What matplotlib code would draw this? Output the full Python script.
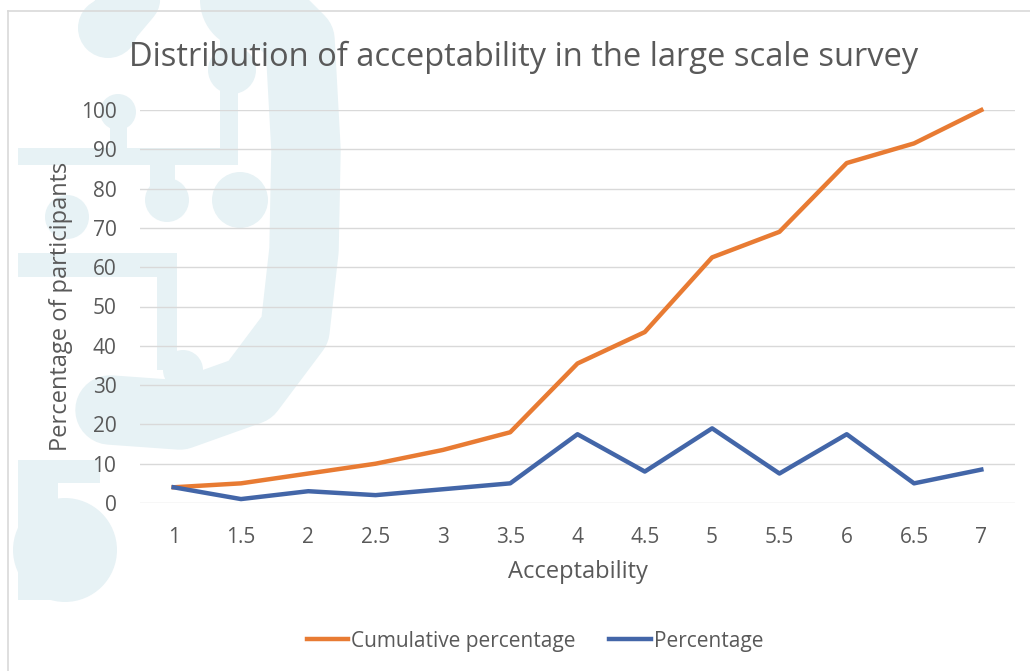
import matplotlib.pyplot as plt
from matplotlib.patches import Circle, Rectangle
from matplotlib.lines import Line2D

plt.rcParams['font.family'] = ['Open Sans', 'DejaVu Sans']

# survey data
acceptability = [1, 1.5, 2, 2.5, 3, 3.5, 4, 4.5, 5, 5.5, 6, 6.5, 7]
tick_labels = ['1', '1.5', '2', '2.5', '3', '3.5', '4', '4.5', '5', '5.5', '6', '6.5', '7']
cumulative = [4, 5, 7.5, 10, 13.5, 18, 35.5, 43.5, 62.5, 69, 86.5, 91.5, 100]
percentage = [4, 1, 3, 2, 3.5, 5, 17.5, 8, 19, 7.5, 17.5, 5, 8.5]

text_col = '#595959'
orange = '#e87b33'
blue = '#4366a8'
wm = '#e7f2f5'

fig = plt.figure(figsize=(10.3, 6.71), dpi=100)

# background logo layer, in pixel coordinates
bg = fig.add_axes([0, 0, 1, 1], zorder=0)
bg.set_xlim(0, 1030)
bg.set_ylim(671, 0)
bg.axis('off')

for (cx, cy, r) in [(108, 28, 30), (118, 112, 18), (232, 70, 24), (250, 0, 50),
                    (167, 200, 22), (240, 200, 28), (67, 217, 22), (183, 370, 20),
                    (65, 550, 52)]:
    bg.add_patch(Circle((cx, cy), r, color=wm, lw=0))
for (x0, y0, w, h) in [(110, 112, 17, 53), (18, 148, 220, 17), (220, 30, 18, 135),
                       (150, 165, 25, 35), (18, 253, 155, 24),
                       (157, 253, 20, 117), (18, 460, 82, 23), (18, 460, 40, 140)]:
    bg.add_patch(Rectangle((x0, y0), w, h, color=wm, lw=0))
bg.plot([108, 140], [28, -10], color=wm, lw=40, solid_capstyle='round')
bg.plot([250, 300, 306, 304, 295, 250, 180, 110],
        [-10, 40, 150, 250, 330, 390, 415, 410],
        color=wm, lw=50, solid_capstyle='round', solid_joinstyle='round')

# chart frame (top and left edges)
bg.plot([8, 1030], [11, 11], color='#d9d9d9', lw=1.2)
bg.plot([8, 8], [11, 671], color='#d9d9d9', lw=1.2)

ax = fig.add_axes([140 / 1030, 1 - 503 / 671, 875 / 1030, 393 / 671], zorder=1)
ax.patch.set_alpha(0)

ax.plot(acceptability, cumulative, color=orange, lw=3.2, label='Cumulative percentage',
        solid_joinstyle='round', clip_on=False, zorder=3)
ax.plot(acceptability, percentage, color=blue, lw=3.2, label='Percentage',
        solid_joinstyle='round', clip_on=False, zorder=3)

ax.set_xlim(0.75, 7.25)
ax.set_ylim(0, 100)
ax.set_yticks(range(0, 101, 10))
ax.set_xticks(acceptability)
ax.set_xticklabels(tick_labels)
ax.grid(axis='y', color='#d9d9d9', lw=1)
ax.set_axisbelow(True)
for s in ax.spines.values():
    s.set_visible(False)
ax.tick_params(length=0, labelsize=15, labelcolor=text_col)
ax.tick_params(axis='y', pad=17)
ax.tick_params(axis='x', pad=17)

ax.set_xlabel('Acceptability', fontsize=17, color=text_col, labelpad=9)
fig.text(61 / 1030, 1 - 306 / 671, 'Percentage of participants', rotation=90,
         ha='center', va='center', fontsize=17, color=text_col)
fig.text(524 / 1030, 1 - 57 / 671, 'Distribution of acceptability in the large scale survey',
         ha='center', va='center', fontsize=23.5, color=text_col)

handles = [Line2D([], [], color=orange, lw=3.2), Line2D([], [], color=blue, lw=3.2)]
fig.legend(handles, ['Cumulative percentage', 'Percentage'], loc='center',
           bbox_to_anchor=(535 / 1030, 1 - 641 / 671), ncol=2, frameon=False,
           fontsize=15, labelcolor=text_col, handlelength=2.0, handletextpad=0.15,
           columnspacing=1.6)

fig.savefig('out.png', dpi=100)
